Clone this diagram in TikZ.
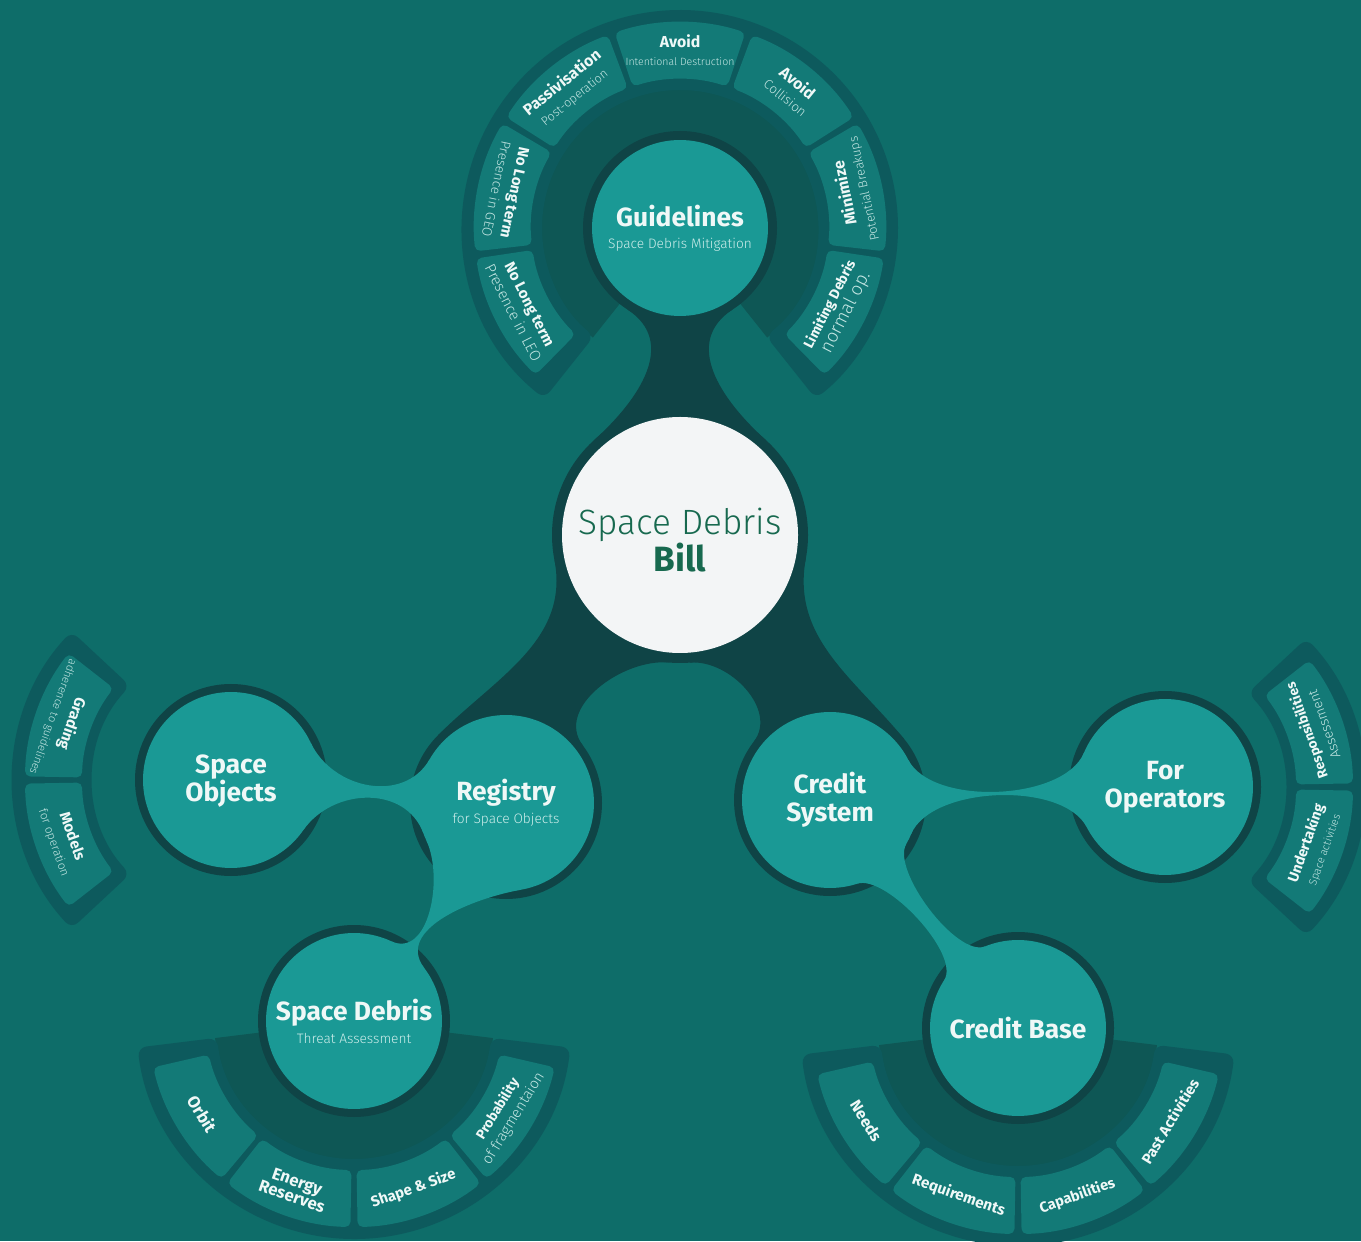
\documentclass[tikz,border=0pt]{standalone}
\usepackage{fontspec}
\setmainfont{Fira Sans}
\newfontfamily\lightfont{Fira Sans Light}
\usetikzlibrary{calc,backgrounds}

\definecolor{bgc}{HTML}{0E6D69}
\definecolor{tealc}{HTML}{1A9995}
\definecolor{hubc}{HTML}{0F4446}
\definecolor{segc}{HTML}{137A77}
\definecolor{bandc}{HTML}{0D5A5D}
\definecolor{innerc}{HTML}{0E5755}
\definecolor{whitec}{HTML}{F3F5F6}
\definecolor{billc}{HTML}{17694F}
\definecolor{txtc}{HTML}{EFF8F7}
\definecolor{subc}{HTML}{CDEDEA}
\definecolor{segsubc}{HTML}{C4E6E3}

\newcommand{\titlefont}{\bfseries\fontsize{15}{16}\selectfont}
\newcommand{\subfont}{\lightfont\mdseries\fontsize{7.8}{9}\selectfont\color{subc}}
\newcommand{\segb}[1]{\bfseries\fontsize{#1}{#1}\selectfont}
\newcommand{\segl}[1]{\lightfont\mdseries\fontsize{#1}{#1}\selectfont\color{segsubc}}

% ring pieces: #1 centre, #2 start angle, #3 end angle
\newcommand{\ringpie}[3]{\fill[innerc] (#1) -- ($(#1)+(#2:140)$) arc[start angle=#2, end angle=#3, radius=140] -- cycle;}
\newcommand{\ringband}[3]{\fill[bandc, rounded corners=5pt] ($(#1)+(#2:138)$) arc[start angle=#2, end angle=#3, radius=138] -- ($(#1)+(#3:218)$) arc[start angle=#3, end angle=#2, radius=218] -- cycle;}
\newcommand{\ringseg}[3]{\fill[segc, rounded corners=3pt] ($(#1)+({#2+1}:149)$) arc[start angle={#2+1}, end angle={#3-1}, radius=149] -- ($(#1)+({#3-1}:206)$) arc[start angle={#3-1}, end angle={#2+1}, radius=206] -- cycle;}

\begin{document}
\begin{tikzpicture}[x=0.02cm, y=0.02cm,
  bubble/.style={circle, fill=tealc, minimum size=3.52cm, inner sep=0pt, align=center, text=txtc, font=\titlefont},
  segtxt/.style={align=center, text=txtc, inner sep=0pt, font=\fontsize{9}{10.5}\selectfont}]
\useasboundingbox (0,0) rectangle (1361,1241);

% centre and topics
\coordinate (hub) at (680,706);
\node[align=center, text=billc, font=\fontsize{20}{19.5}\selectfont] (bill) at ($(hub)+(0,-5)$) {{\lightfont Space Debris}\\{\bfseries Bill}};
\node[bubble] (gl) at (680,1013) {Guidelines\\[-3.5pt]{\subfont Space Debris Mitigation}};
\node[bubble] (reg) at (506,438) {Registry\\[-3pt]{\subfont for Space Objects}};
\node[bubble, text depth=2pt] (obj) at (231,461) {Space\\Objects};
\node[bubble] (deb) at (354,220) {Space Debris\\[-3pt]{\subfont Threat Assessment}};
\node[bubble] (cred) at (830,441) {Credit\\System};
\node[bubble] (ops) at (1165,454) {For\\Operators};
\node[bubble] (base) at (1018,213) {Credit Base};
\coordinate (opsarc) at ($(ops.center)+(-18,0)$);

% guideline ring labels
\node[segtxt, rotate=63] (limit) at ($(gl.center)+(-27:178)$) {{\segb{8}Limiting Debris}\\{\segl{10.5}normal op.}};
\node[segtxt, rotate=102] (minim) at ($(gl.center)+(12:178)$) {{\segb{9}Minimize}\\{\segl{7.2}Potential Breakups}};
\node[segtxt, rotate=-39] (collis) at ($(gl.center)+(51:178)$) {{\segb{9}Avoid}\\{\segl{7.5}Collision}};
\node[segtxt] (destr) at ($(gl.center)+(90:178)$) {{\segb{9}Avoid}\\{\segl{6}Intentional Destruction}};
\node[segtxt, rotate=39] (passiv) at ($(gl.center)+(129:178)$) {{\segb{9}Passivisation}\\{\segl{7}Post-operation}};
\node[segtxt, rotate=258] (geo) at ($(gl.center)+(168:178)$) {{\segb{8.6}No Long term}\\{\segl{7.7}Presence in GEO}};
\node[segtxt, rotate=297] (leo) at ($(gl.center)+(207:178)$) {{\segb{8.6}No Long term}\\{\segl{8.6}Presence in LEO}};

% debris ring labels
\node[segtxt, rotate=-58.5] (orbit) at ($(deb.center)+(-148.5:178)$) {\segb{9.6}Orbit};
\node[segtxt, rotate=-19.5] (energy) at ($(deb.center)+(-109.5:178)$) {{\segb{9.5}Energy}\\[-1.5pt]{\segb{9.5}Reserves}};
\node[segtxt, rotate=19.5] (shape) at ($(deb.center)+(-70.5:178)$) {\segb{8.5}Shape \& Size};
\node[segtxt, rotate=58.5] (prob) at ($(deb.center)+(-31.5:178)$) {{\segb{7.8}Probability}\\{\segl{8.4}of fragmentaion}};

% credit base ring labels
\node[segtxt, rotate=-58.5] (needs) at ($(base.center)+(-148.5:178)$) {\segb{9}Needs};
\node[segtxt, rotate=-19.5] (requ) at ($(base.center)+(-109.5:178)$) {\segb{8.7}Requirements};
\node[segtxt, rotate=19.5] (capab) at ($(base.center)+(-70.5:178)$) {\segb{8.3}Capabilities};
\node[segtxt, rotate=58.5] (past) at ($(base.center)+(-31.5:178)$) {\segb{8.5}Past Activities};

% side arcs labels
\node[segtxt, rotate=250.5] (grading) at ($(obj.center)+(160.5:178)$) {{\segb{8.7}Grading}\\{\segl{6.4}adherence to guidelines}};
\node[segtxt, rotate=289.5] (models) at ($(obj.center)+(199.5:178)$) {{\segb{8.6}Models}\\{\segl{6.8}for operation}};
\node[segtxt, rotate=109.5] (respons) at ($(opsarc)+(19.5:178)$) {{\segb{7.8}Responsibilities}\\{\segl{7.8}Assessment}};
\node[segtxt, rotate=70.5] (undert) at ($(opsarc)+(-19.5:178)$) {{\segb{8.3}Undertaking}\\{\segl{6.2}Space activities}};

\begin{scope}[on background layer]
\fill[bgc] (0,0) rectangle (1361,1241);

% rings
\ringpie{gl.center}{-51.5}{231.5}
\ringband{gl.center}{-51.5}{231.5}
\ringseg{gl.center}{-46.5}{-7.5}
\ringseg{gl.center}{-7.5}{31.5}
\ringseg{gl.center}{31.5}{70.5}
\ringseg{gl.center}{70.5}{109.5}
\ringseg{gl.center}{109.5}{148.5}
\ringseg{gl.center}{148.5}{187.5}
\ringseg{gl.center}{187.5}{226.5}

\ringpie{deb.center}{-173}{-7}
\ringband{deb.center}{-173}{-7}
\ringseg{deb.center}{-168}{-129}
\ringseg{deb.center}{-129}{-90}
\ringseg{deb.center}{-90}{-51}
\ringseg{deb.center}{-51}{-12}

\ringpie{base.center}{-173}{-7}
\ringband{base.center}{-173}{-7}
\ringseg{base.center}{-168}{-129}
\ringseg{base.center}{-129}{-90}
\ringseg{base.center}{-90}{-51}
\ringseg{base.center}{-51}{-12}

\ringband{obj.center}{137}{223}
\ringseg{obj.center}{141}{180}
\ringseg{obj.center}{180}{219}

\ringband{opsarc}{-43}{43}
\ringseg{opsarc}{-39}{0}
\ringseg{opsarc}{0}{39}

% dark hub and outlines
\fill[hubc] (hub) circle (128) (gl.center) circle (97) (reg.center) circle (96) (cred.center) circle (96)
  (obj.center) circle (96) (deb.center) circle (96) (ops.center) circle (96) (base.center) circle (96);
\fill[hubc, looseness=1.15] ($(hub)+(48:128)$) to[out=138, in=213] ($(gl.center)+(303:97)$)
  -- ($(gl.center)+(237:97)$) to[out=327, in=42] ($(hub)+(132:128)$) -- cycle;
\fill[hubc] ($(hub)+(191:128)$) to[out=281, in=45] ($(reg.center)+(135:96)$)
  -- ($(reg.center)+(37:96)$) to[out=127, in=175] ($(hub)+(265:128)$) -- cycle;
\fill[hubc] ($(hub)+(274.5:128)$) to[out=4.5, in=52.5] ($(cred.center)+(142.5:96)$)
  -- ($(cred.center)+(39.5:96)$) to[out=129.5, in=259.5] ($(hub)+(349.5:128)$) -- cycle;
\fill[whitec] (hub) circle (118);

% teal necks
\fill[tealc, looseness=1.1] ($(obj.center)+(-34.8:88)$) to[out=55.2, in=110.2] ($(reg.center)+(200.2:88)$)
  -- ($(reg.center)+(150.2:88)$) to[out=240.2, in=-64.8] ($(obj.center)+(25.2:88)$) -- cycle;
\fill[tealc] ($(reg.center)+(205.1:88)$) to[out=295.1, in=335.1] ($(deb.center)+(65.1:88)$)
  -- ($(deb.center)+(37.1:88)$) to[out=127.1, in=190.1] ($(reg.center)+(280.1:88)$) -- cycle;
\fill[tealc, looseness=0.76] ($(cred.center)+(-22.8:88)$) to[out=67.2, in=117.2] ($(ops.center)+(207.2:88)$)
  -- ($(ops.center)+(157.2:88)$) to[out=247.2, in=-62.8] ($(cred.center)+(27.2:88)$) -- cycle;
\fill[tealc, looseness=0.6] ($(cred.center)+(-72:88)$) to[out=18, in=57] ($(base.center)+(147:88)$)
  -- ($(base.center)+(112:88)$) to[out=202, in=-120] ($(cred.center)+(-30:88)$) -- cycle;
\end{scope}
\end{tikzpicture}
\end{document}
